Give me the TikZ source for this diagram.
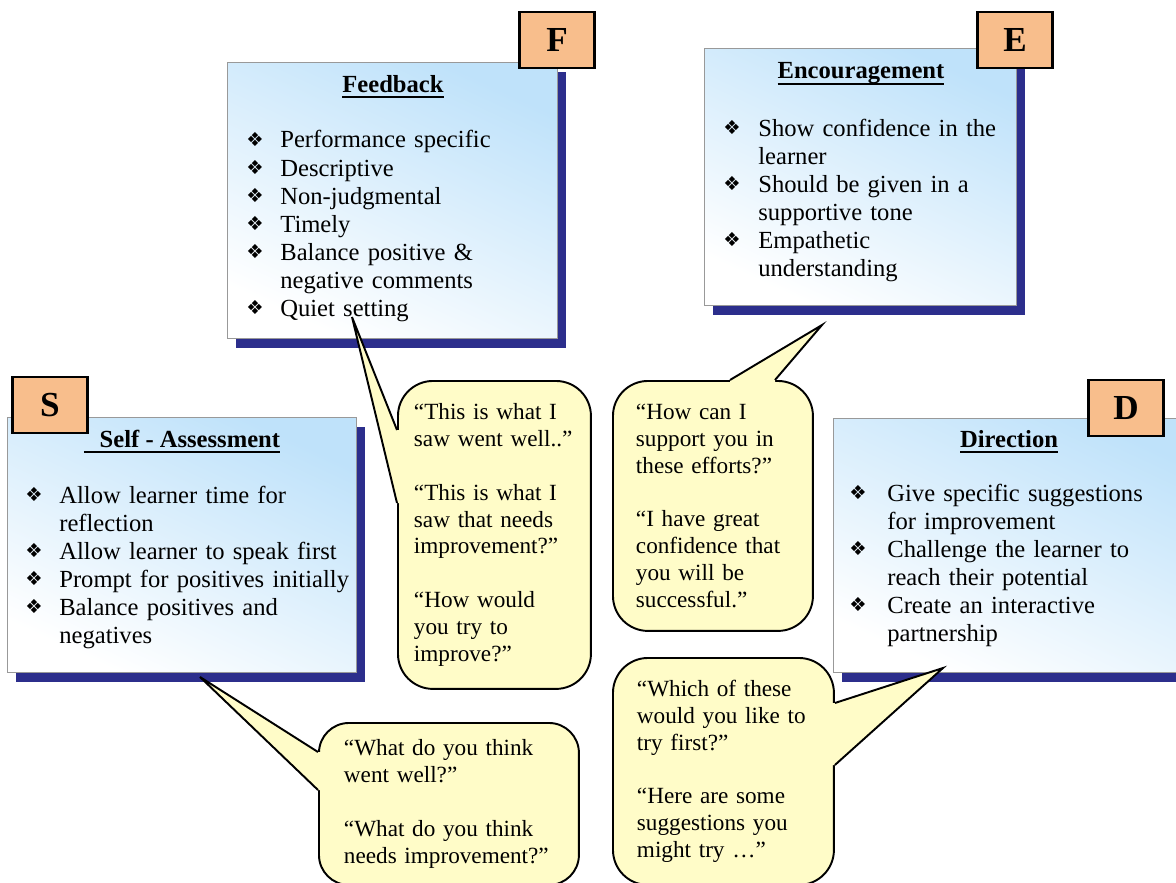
\documentclass[tikz,border=0pt]{standalone}
\usepackage{fontspec}
\setmainfont{Liberation Serif}
\newfontfamily\bulfont{DejaVu Sans}
\usetikzlibrary{shadows, calc}

\definecolor{panelblue}{HTML}{BFE2FA}
\definecolor{shadownavy}{HTML}{2C2E8C}
\definecolor{tagpeach}{HTML}{F8BE8C}
\definecolor{notefill}{HTML}{FFFCC8}

\newlength{\bulw}
\setlength{\bulw}{0.68cm}
\newcommand{\itm}[1]{\noindent\makebox[\bulw][l]{\raisebox{1pt}{\bulfont\fontsize{11}{11}\selectfont ❖}}#1\hangindent=\bulw\hangafter=1\par}
\newsavebox{\ttlbox}
\newcommand{\ttlline}[1]{\sbox{\ttlbox}{#1}\rlap{\rule[-3.2pt]{\wd\ttlbox}{1.1pt}}\usebox{\ttlbox}}

\begin{document}
\begin{tikzpicture}[x=0.02cm, y=-0.02cm,
    panel/.style={draw=gray!80, line width=0.5pt, anchor=north west,
        top color=panelblue, bottom color=white, shading angle=-25,
        drop shadow={shadow xshift=0.18cm, shadow yshift=-0.2cm, fill=shadownavy, opacity=1}},
    tag/.style={draw=black, line width=1.3pt, fill=tagpeach, minimum width=1.5cm,
        minimum height=1.12cm, inner sep=0pt, font=\bfseries\fontsize{20}{20}\selectfont},
    ttl/.style={anchor=base, inner sep=0pt, font=\bfseries\fontsize{14}{16}\selectfont},
    list/.style={anchor=base west, inner sep=0pt, text width=7cm, align=left,
        font=\fontsize{14}{16}\selectfont},
    note/.style={draw=black, line width=1.1pt, fill=notefill, rounded corners=0.7cm,
        anchor=north west, inner xsep=0.46cm, inner ysep=0pt, align=left,
        font=\fontsize{13.2}{15.3}\selectfont},
    noteline/.style={draw=black, line width=1.1pt, line join=miter}]

    \useasboundingbox (0,0) rectangle (1176,882);
    \clip (0,0) rectangle (1176,882);

    % Panels
    \node[panel, minimum width=6.6cm, minimum height=5.52cm] (fpanel) at (227,62) {};
    \node[panel, minimum width=6.24cm, minimum height=5.14cm] (epanel) at (704,48) {};
    \node[panel, minimum width=6.98cm, minimum height=5.1cm] (spanel) at (7,417) {};
    \node[panel, minimum width=7.4cm, minimum height=5.08cm] (dpanel) at (833,418) {};

    % Titles
    \node[ttl] (ftitle) at (393,92) {\ttlline{Feedback}};
    \node[ttl] (etitle) at (861,79) {\ttlline{Encouragement}};
    \node[ttl] (stitle) at (182,447) {\ttlline{\hspace{9pt}Self - Assessment}};
    \node[ttl] (dtitle) at (1009,447) {\ttlline{Direction}};

    % Bullet lists
    \node[list] (flist) at (246,148) {\itm{Performance specific}\itm{Descriptive}
        \itm{Non-judgmental}\itm{Timely}\itm{Balance positive \&\newline negative comments}
        \itm{Quiet setting}};
    \node[list] (elist) at (723,136) {\setlength{\bulw}{0.7cm}\itm{Show confidence in the\newline learner}
        \itm{Should be given in a\newline supportive tone}\itm{Empathetic\newline understanding}};
    \node[list] (slist) at (25,503) {\itm{Allow learner time for\newline reflection}
        \itm{Allow learner to speak first}\itm{Prompt for positives initially}
        \itm{Balance positives and\newline negatives}};
    \node[list] (dlist) at (849,501) {\setlength{\bulw}{0.76cm}\itm{Give specific suggestions\newline for improvement}
        \itm{Challenge the learner to\newline reach their potential}\itm{Create an interactive\newline partnership}};

    % Letter tags
    \node[tag] (ftag) at (557,40) {F};
    \node[tag] (etag) at (1015,40) {E};
    \node[tag] (stag) at (50,405) {S};
    \node[tag] (dtag) at (1126,408) {D};

    % Speech bubbles
    \node[note, minimum width=3.86cm, minimum height=6.16cm, inner xsep=0.32cm, text width=3.22cm]
        (fnote) at (397,380) {“This is what I\\saw went well..”\\[15.3pt]“This is what I\\saw that needs\\improvement?”\\[15.3pt]“How would\\you try to\\improve?”};
    \node[note, minimum width=4cm, minimum height=5cm, text width=3.08cm]
        (enote) at (612,380) {“How can I\\support you in\\these efforts?”\\[15.3pt]“I have great\\confidence that\\you will be\\successful.”};
    \node[note, minimum width=4.42cm, minimum height=4.54cm, inner xsep=0.48cm, text width=3.46cm]
        (dnote) at (612,657) {“Which of these\\would you like to\\try first?”\\[15.3pt]“Here are some\\suggestions you\\might try …”};
    \node[note, minimum width=5.2cm, minimum height=3.24cm, inner xsep=0.5cm, text width=4.2cm, rounded corners=0.6cm]
        (snote) at (318,722) {“What do you think\\went well?”\\[15.3pt]“What do you think\\needs improvement?”};

    % Bubble tails
    \coordinate (ftip) at (352,317);
    \coordinate (fb1) at ($(fnote.north west)+(0,50)$);
    \coordinate (fb2) at ($(fnote.north west)+(0,123)$);
    \fill[notefill] (fb1) -- (ftip) -- (fb2) -- ($(fb2)+(4,0)$) -- ($(fb1)+(4,0)$) -- cycle;
    \draw[noteline] (fb1) -- (ftip) -- (fb2);

    \coordinate (etip) at (822,325);
    \coordinate (eb1) at ($(enote.north west)+(118,0)$);
    \coordinate (eb2) at ($(enote.north west)+(163,0)$);
    \fill[notefill] (eb1) -- (etip) -- (eb2) -- ($(eb2)+(0,4)$) -- ($(eb1)+(0,4)$) -- cycle;
    \draw[noteline] (eb1) -- (etip) -- (eb2);

    \coordinate (dtip) at (943,668);
    \coordinate (db1) at ($(dnote.north east)+(0,46)$);
    \coordinate (db2) at ($(dnote.north east)+(0,108)$);
    \fill[notefill] (db1) -- (dtip) -- (db2) -- ($(db2)+(-4,0)$) -- ($(db1)+(-4,0)$) -- cycle;
    \draw[noteline] (db1) -- (dtip) -- (db2);

    \coordinate (stip) at (200,677);
    \coordinate (sb1) at ($(snote.north west)+(0,30)$);
    \coordinate (sb2) at ($(snote.north west)+(0,68)$);
    \fill[notefill] (sb1) -- (stip) -- (sb2) -- ($(sb2)+(4,0)$) -- ($(sb1)+(4,0)$) -- cycle;
    \draw[noteline] (sb1) -- (stip) -- (sb2);

\end{tikzpicture}
\end{document}
